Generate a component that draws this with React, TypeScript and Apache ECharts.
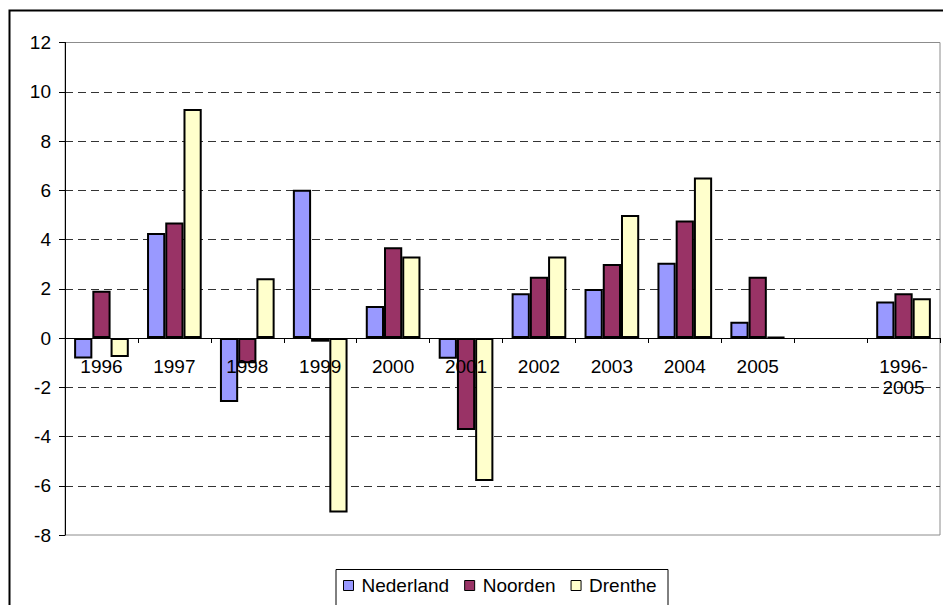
import React, { useEffect, useRef } from "react";
import * as echarts from "echarts";

const categories = ["1996", "1997", "1998", "1999", "2000", "2001", "2002", "2003", "2004", "2005", "", "1996-\n2005"];
const seriesNames = ["Nederland", "Noorden", "Drenthe"];
const nederland = [-0.83, 4.26, -2.6, 6.02, 1.3, -0.84, 1.82, 1.99, 3.06, 0.66, null, 1.48];
const noorden = [1.92, 4.69, -1.03, -0.15, 3.69, -3.74, 2.49, 3.01, 4.77, 2.49, null, 1.82];
const drenthe = [-0.77, 9.3, 2.43, -7.09, 3.31, -5.81, 3.31, 5.0, 6.52, 0.04, null, 1.61];
const colors = ["#9999FF", "#993366", "#FFFFCC"];
const yMin = -8;
const yMax = 12;

const FONT = '"Liberation Sans", Arial, sans-serif';

export default function App() {
  const ref = useRef<HTMLDivElement>(null);
  useEffect(() => {
    if (!ref.current) return;
    const chart = echarts.init(ref.current, undefined, { renderer: "svg" });
    const values = [nederland, noorden, drenthe];
    const gridTop = 42.5;
    const gridBottom = 70;
    const gridH = 605 - gridTop - gridBottom;
    const zeroOffset = -((0 - yMin) / (yMax - yMin)) * gridH;
    chart.setOption({
      animation: false,
      backgroundColor: "#fff",
      textStyle: { fontFamily: FONT },
      grid: {
        left: 65,
        top: gridTop,
        right: 3,
        bottom: gridBottom,
        show: true,
        borderColor: "#8c8c8c",
        borderWidth: 1,
        backgroundColor: "transparent",
      },
      legend: {
        left: 343,
        top: 576,
        padding: 0,
        itemWidth: 10,
        itemHeight: 10,
        itemGap: 15,
        icon: "rect",
        itemStyle: { borderColor: "#000", borderWidth: 1 },
        textStyle: { fontFamily: FONT, fontSize: 19, color: "#000", padding: [0, 0, 0, 3] },
        data: seriesNames,
      },
      xAxis: {
        type: "category",
        data: categories,
        position: "bottom",
        offset: zeroOffset,
        z: 10,
        axisLine: { onZero: false, lineStyle: { color: "#000", width: 1 } },
        axisTick: { show: true, length: 5, lineStyle: { color: "#000" } },
        axisLabel: {
          interval: 0,
          margin: 18,
          fontFamily: FONT,
          fontSize: 19,
          color: "#000",
          lineHeight: 21,
        },
        splitLine: { show: false },
      },
      yAxis: {
        type: "value",
        min: yMin,
        max: yMax,
        interval: 2,
        axisLine: { show: true, lineStyle: { color: "#000", width: 1 } },
        axisTick: { show: true, length: 6, lineStyle: { color: "#000" } },
        axisLabel: { margin: 14, fontFamily: FONT, fontSize: 19, color: "#000" },
        splitLine: {
          show: true,
          showMinLine: false,
          showMaxLine: false,
          lineStyle: { color: "#333", type: [8, 5], width: 1 },
        },
      },
      series: seriesNames.map((name, i) => ({
        name,
        type: "bar",
        data: values[i],
        barGap: "0%",
        barCategoryGap: "25%",
        itemStyle: { color: colors[i], borderColor: "#000", borderWidth: 2 },
      })),
      graphic: [
        {
          type: "polyline",
          shape: { points: [[9.5, 605], [9.5, 10.5], [943, 10.5]] },
          style: { stroke: "#000", lineWidth: 2, fill: "none" },
          z: 100,
        },
        {
          type: "rect",
          shape: { x: 336, y: 569.5, width: 332, height: 60 },
          style: { stroke: "#000", lineWidth: 1, fill: "none" },
          z: 100,
        },
      ],
    });
    return () => chart.dispose();
  }, []);
  return (
    <div
      ref={ref}
      style={{ position: "fixed", left: 0, top: 0, width: 943, height: 605 }}
    />
  );
}
